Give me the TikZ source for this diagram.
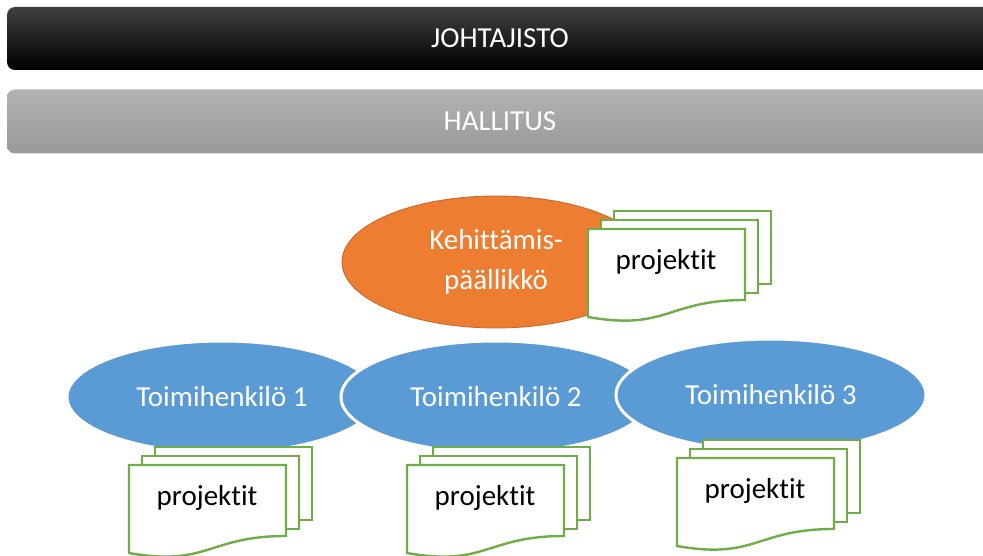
\documentclass[tikz,border=0pt]{standalone}
\usepackage{fontspec}
\setmainfont{Carlito}[Ligatures=NoCommon]
\usepackage{tikz}
\usetikzlibrary{shapes.geometric}

\definecolor{orgorange}{HTML}{ED7D31}
\definecolor{orgorangeline}{HTML}{C4652A}
\definecolor{orgblue}{HTML}{5B9BD5}
\definecolor{orggreen}{HTML}{70AD47}

\tikzset{
  bigtext/.style={font=\fontsize{29}{40}\selectfont},
  levelbar/.style={bigtext, rectangle, rounded corners=8pt, text=white,
    minimum width=986pt, inner sep=0pt},
  boss/.style={bigtext, ellipse, fill=orgorange, draw=orgorangeline, line width=0.8pt,
    text=white, align=center, minimum width=308pt, minimum height=132pt, inner sep=0pt},
  person/.style={bigtext, ellipse, fill=orgblue, draw=white, line width=3pt,
    text=white, minimum width=310pt, minimum height=112pt, inner sep=0pt},
  sheet/.style={draw=orggreen, fill=white, line width=2.4pt, line join=miter},
  projtext/.style={bigtext, text=black, inner sep=0pt}
}

% three sheets stacked; #1 name, (#2,#3) top left of the front sheet
\newcommand{\projstack}[3]{%
  \path[sheet] (#2+26,#3-18) rectangle ++(157,73);
  \path[sheet] (#2+13,#3-9) rectangle ++(157,73);
  \path[sheet] (#2,#3) -- ++(157,0) -- ++(0,71)
    .. controls (#2+79,#3+71) and (#2+79,#3+102) .. (#2,#3+88) -- cycle;
  \node[projtext] (#1) at (#2+78,#3+33) {projektit};
}

\begin{document}
\begin{tikzpicture}[x={(1pt,0)}, y={(0,-1pt)}]
  \clip (0,0) rectangle (983,556);

  % management levels
  \node[levelbar, minimum height=63pt, top color=black!75!white, middle color=black,
    bottom color=black] (johtajisto) at (500,38.5) {JOHTAJISTO};
  \node[levelbar, minimum height=64pt, top color=black!30, bottom color=black!40]
    (hallitus) at (500,121.5) {HALLITUS};

  % development manager
  \node[boss] (kehpaal) at (496,262) {Kehittämis-\\päällikkö};
  \projstack{proj0}{588}{229}

  % staff
  \node[person] (toimi1) at (222,397) {Toimihenkilö 1};
  \node[person] (toimi2) at (496,397) {Toimihenkilö 2};
  \node[person] (toimi3) at (771,395) {Toimihenkilö 3};
  \projstack{proj1}{129}{465}
  \projstack{proj2}{407}{465}
  \projstack{proj3}{677}{458}
\end{tikzpicture}
\end{document}
